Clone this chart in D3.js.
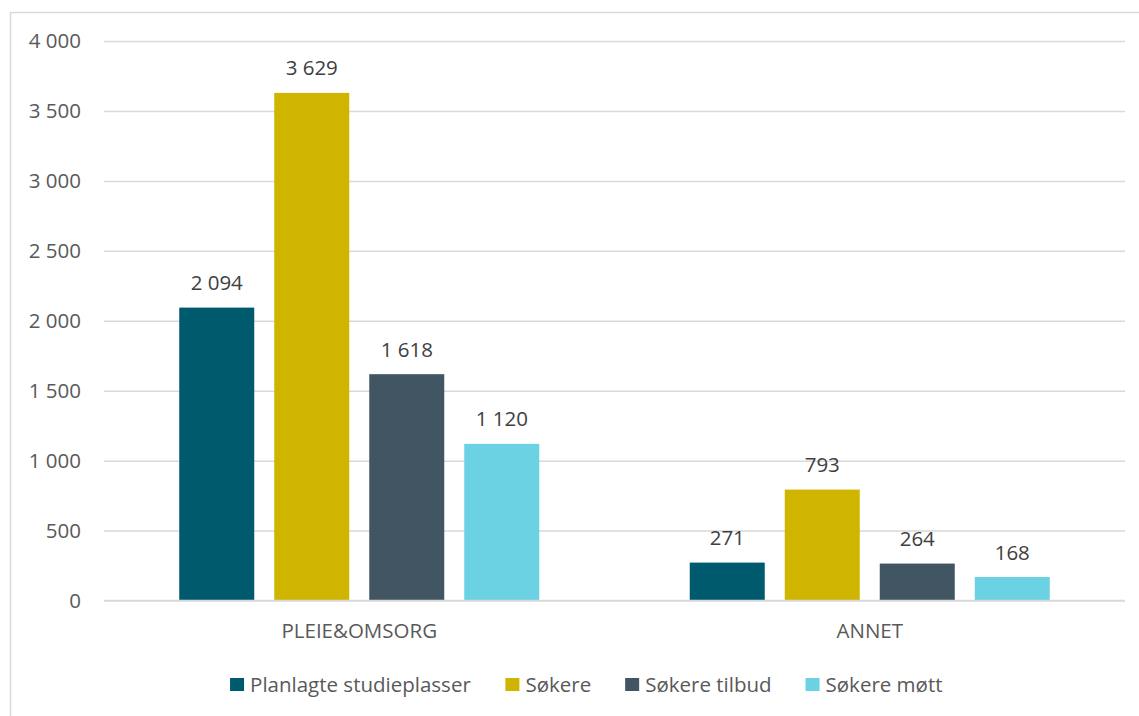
<!DOCTYPE html>
<html>
<head>
<meta charset="utf-8">
<script src="https://cdn.jsdelivr.net/npm/d3@7"></script>
<style>
  html, body { margin: 0; padding: 0; background: #ffffff; }
  svg { display: block; }
  text { font-family: "Open Sans", sans-serif; }
</style>
</head>
<body>
<svg id="chart" width="1139" height="716"></svg>
<script>
const categories = ["PLEIE&OMSORG", "ANNET"];
const seriesNames = ["Planlagte studieplasser", "Søkere", "Søkere tilbud", "Søkere møtt"];
const planlagte = [2094, 271];
const sokere = [3629, 793];
const sokereTilbud = [1618, 264];
const sokereMott = [1120, 168];
const yTicks = [0, 500, 1000, 1500, 2000, 2500, 3000, 3500, 4000];
const colors = ["#005A6E", "#CFB400", "#415563", "#6AD2E3"];

const seriesValues = [planlagte, sokere, sokereTilbud, sokereMott];

const svg = d3.select("#chart");
const W = 1139, H = 716;

// chart border
svg.append("rect")
  .attr("x", 10.5).attr("y", 12.5)
  .attr("width", 1200).attr("height", 800)
  .attr("fill", "#ffffff")
  .attr("stroke", "#d9d9d9").attr("stroke-width", 1.5);

const plot = { left: 104, right: 1125, top: 41, bottom: 600.5 };

const fmt = v => d3.format(",")(v).replace(/,/g, " ");

const y = d3.scaleLinear().domain([0, 4000]).range([plot.bottom, plot.top]);
const x0 = d3.scaleBand().domain(categories).range([plot.left, plot.right]).paddingInner(0).paddingOuter(0);
const x1 = d3.scaleBand().domain(seriesNames).range([0, x0.bandwidth()])
  .paddingInner(0.2105).paddingOuter(0.792);

// gridlines
const yAxis = d3.axisLeft(y).tickValues(yTicks).tickSize(-(plot.right - plot.left)).tickPadding(23).tickFormat(fmt);
const gAxis = svg.append("g").attr("transform", `translate(${plot.left},0)`).call(yAxis);
gAxis.select(".domain").remove();
gAxis.selectAll(".tick line").attr("stroke", "#d9d9d9").attr("stroke-width", 1.5);
gAxis.selectAll(".tick text")
  .attr("fill", "#595959")
  .style("font-size", "20.5px")
  .style("font-family", "'Open Sans', sans-serif");

// bars
const groups = svg.append("g").selectAll("g")
  .data(categories)
  .join("g")
  .attr("transform", d => `translate(${x0(d)},0)`);

groups.each(function(cat, ci) {
  const g = d3.select(this);
  const rows = seriesNames.map((s, si) => ({ s, si, v: seriesValues[si][ci] }));
  g.selectAll("rect")
    .data(rows)
    .join("rect")
    .attr("x", d => x1(d.s))
    .attr("width", x1.bandwidth())
    .attr("y", d => y(d.v))
    .attr("height", d => y(0) - y(d.v))
    .attr("fill", d => colors[d.si]);
  g.selectAll("text.lbl")
    .data(rows)
    .join("text")
    .attr("class", "lbl")
    .attr("x", d => x1(d.s) + x1.bandwidth() / 2)
    .attr("y", d => y(d.v) - 17.5)
    .attr("text-anchor", "middle")
    .attr("fill", "#404040")
    .style("font-size", "20.5px")
    .text(d => fmt(d.v));
});

// zero line on top
svg.append("line")
  .attr("x1", plot.left).attr("x2", plot.right)
  .attr("y1", y(0)).attr("y2", y(0))
  .attr("stroke", "#d9d9d9").attr("stroke-width", 1.5);

// category labels
const xAxis = d3.axisBottom(x0).tickSize(0).tickPadding(0);
const gx = svg.append("g").attr("transform", `translate(0,${plot.bottom})`).call(xAxis);
gx.select(".domain").remove();
gx.selectAll(".tick text")
  .attr("dy", null)
  .attr("y", 37.5)
  .attr("fill", "#595959")
  .style("font-size", "20.5px")
  .style("font-family", "'Open Sans', sans-serif");

// legend
const legend = svg.append("g");
const items = legend.selectAll("g").data(seriesNames).join("g");
items.append("rect")
  .attr("width", 14).attr("height", 13)
  .attr("y", 678)
  .attr("fill", (d, i) => colors[i]);
items.append("text")
  .attr("x", 20)
  .attr("y", 691.5)
  .attr("fill", "#595959")
  .style("font-size", "20.5px")
  .text(d => d);
const widths = [];
items.each(function() { widths.push(this.getBBox().width); });
const gap = 34;
const total = d3.sum(widths) + gap * (widths.length - 1);
let cx = 586.3 - total / 2;
items.each(function(d, i) {
  d3.select(this).attr("transform", `translate(${cx},0)`);
  cx += widths[i] + gap;
});
</script>
</body>
</html>
